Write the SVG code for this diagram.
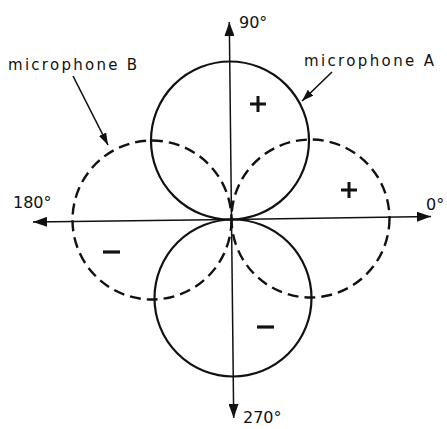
<svg xmlns="http://www.w3.org/2000/svg" width="447" height="429" viewBox="0 0 447 429">
<style>
.solid{fill:none;stroke:#111;stroke-width:2.2}
.dash{fill:none;stroke:#111;stroke-width:2.4;stroke-dasharray:11 6}
.axis{fill:none;stroke:#111;stroke-width:1.5}
.lead{fill:none;stroke:#111;stroke-width:1.6}
text{font-family:"DejaVu Sans","Liberation Sans",sans-serif;fill:#111}
.lbl{font-size:15px}
.deg{font-size:16px}
</style>
<defs>
<marker id="ah" viewBox="0 0 14 10" refX="14" refY="5" markerWidth="14" markerHeight="10" markerUnits="userSpaceOnUse" orient="auto">
<path d="M0,0 L14,5 L0,10 Z" fill="#111"/>
</marker>
<marker id="lh" viewBox="0 0 12 8" refX="12" refY="4" markerWidth="12" markerHeight="8" markerUnits="userSpaceOnUse" orient="auto">
<path d="M0,0 L12,4 L0,8 Z" fill="#111"/>
</marker>
</defs>
<g id="mic-A">
<circle class="solid" cx="230" cy="140.5" r="79"/>
<circle class="solid" cx="233" cy="298" r="78.5"/>
</g>
<g id="mic-B">
<circle class="dash" cx="310.5" cy="218.5" r="79"/>
<circle class="dash" cx="152" cy="220" r="79.5"/>
</g>
<g id="connectors">
<line class="axis" x1="231.5" y1="219" x2="229.3" y2="22" marker-end="url(#ah)"/>
<line class="axis" x1="231.5" y1="219" x2="233.7" y2="418" marker-end="url(#ah)"/>
<line class="axis" x1="231.5" y1="219.5" x2="33" y2="222" marker-end="url(#ah)"/>
<line class="axis" x1="231.5" y1="219.5" x2="431" y2="216.5" marker-end="url(#ah)"/>
<line class="lead" x1="73" y1="76" x2="108" y2="145" marker-end="url(#lh)"/>
<line class="lead" x1="332" y1="72" x2="302" y2="101" marker-end="url(#lh)"/>
</g>
<g id="labels">
<text class="lbl" x="8" y="70" textLength="129" lengthAdjust="spacing">microphone B</text>
<text class="lbl" x="304" y="66" textLength="130" lengthAdjust="spacing">microphone A</text>
<text class="deg" x="239" y="28">90°</text>
<text class="deg" x="13" y="208">180°</text>
<text class="deg" x="426" y="210">0°</text>
<text class="deg" x="243" y="423">270°</text>
</g>
<g id="signs">
<path d="M250,104 H266 M258,96 V112" stroke="#111" stroke-width="3" fill="none"/>
<path d="M341,190 H357 M349,182 V198" stroke="#111" stroke-width="3" fill="none"/>
<path d="M103,252 H120" stroke="#111" stroke-width="3.2" fill="none"/>
<path d="M257,327 H274" stroke="#111" stroke-width="3.2" fill="none"/>
</g>
</svg>
